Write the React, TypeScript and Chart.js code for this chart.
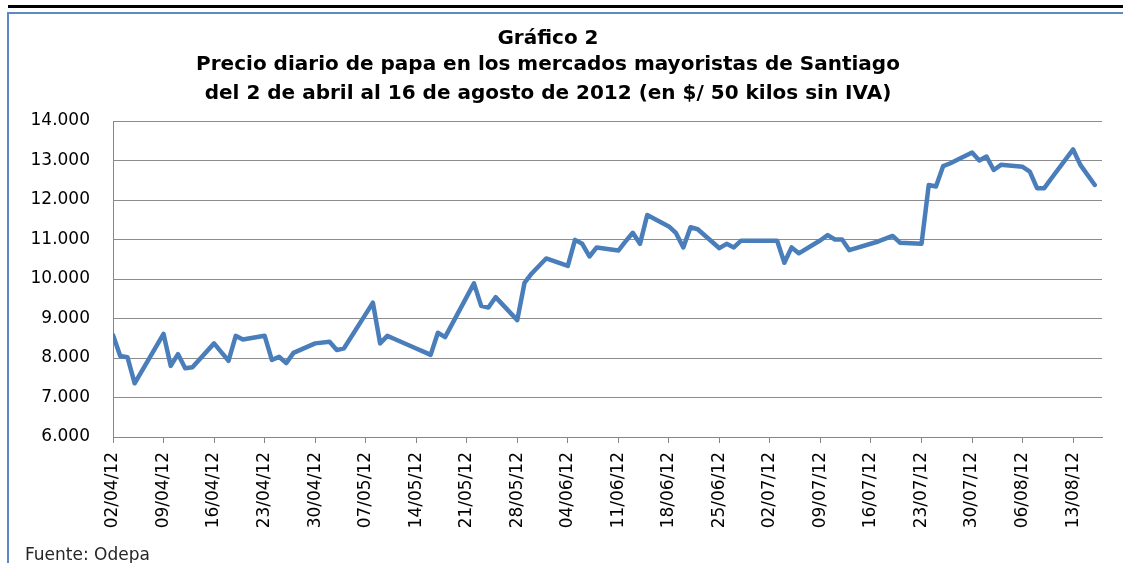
import React, { useEffect, useRef } from "react";
import { Chart, registerables } from "chart.js";

Chart.register(...registerables);

const titleLines = [
  "Gráfico 2",
  "Precio diario de papa en los mercados mayoristas de Santiago",
  "del 2 de abril al 16 de agosto de 2012 (en $/ 50 kilos sin IVA)",
];
const sourceText = "Fuente: Odepa";

const dates = [
  "02/04", "03/04", "04/04", "05/04", "09/04", "10/04", "11/04", "12/04", "13/04",
  "16/04", "17/04", "18/04", "19/04", "20/04", "23/04", "24/04", "25/04", "26/04", "27/04",
  "30/04", "02/05", "03/05", "04/05", "07/05", "08/05", "09/05", "10/05", "11/05",
  "14/05", "15/05", "16/05", "17/05", "18/05", "22/05", "23/05", "24/05", "25/05",
  "28/05", "29/05", "30/05", "31/05", "01/06", "04/06", "05/06", "06/06", "07/06", "08/06",
  "11/06", "12/06", "13/06", "14/06", "15/06", "18/06", "19/06", "20/06", "21/06", "22/06",
  "25/06", "26/06", "27/06", "28/06", "29/06", "02/07", "03/07", "04/07", "05/07", "06/07",
  "09/07", "10/07", "11/07", "12/07", "13/07", "17/07", "18/07", "19/07", "20/07",
  "23/07", "24/07", "25/07", "26/07", "27/07", "30/07", "31/07", "01/08", "02/08", "03/08",
  "06/08", "07/08", "08/08", "09/08", "10/08", "13/08", "14/08", "16/08",
];

const prices = [
  8580, 8050, 8020, 7360, 8610, 7800, 8100, 7740, 7765,
  8370, 8150, 7930, 8560, 8470, 8565, 7950, 8030, 7870, 8130,
  8370, 8410, 8200, 8245, 9110, 9400, 8370, 8560, 8480,
  8240, 8160, 8080, 8640, 8530, 9890, 9320, 9280, 9540,
  8960, 9900, 10140, 10330, 10520, 10330, 10990, 10890, 10570, 10800,
  10720, 10950, 11170, 10890, 11620, 11330, 11160, 10800, 11310, 11260,
  10780, 10890, 10800, 10970, 10970, 10970, 10970, 10410, 10800, 10650,
  10980, 11110, 11000, 11000, 10730, 10950, 11020, 11090, 10920,
  10890, 12380, 12340, 12860, 12930, 13200, 13000, 13100, 12760, 12890,
  12840, 12720, 12300, 12300, 12550, 13280, 12890, 12380,
];

const tickLabels = [
  "02/04/12", "09/04/12", "16/04/12", "23/04/12", "30/04/12", "07/05/12", "14/05/12",
  "21/05/12", "28/05/12", "04/06/12", "11/06/12", "18/06/12", "25/06/12", "02/07/12",
  "09/07/12", "16/07/12", "23/07/12", "30/07/12", "06/08/12", "13/08/12",
];

const yMin = 6000;
const yMax = 14000;
const yStep = 1000;
const xMaxDays = 137;

function dayIndex(ddmm: string): number {
  const [d, m] = ddmm.split("/").map(Number);
  return Math.round((Date.UTC(2012, m - 1, d) - Date.UTC(2012, 3, 2)) / 86400000);
}

function tickDay(label: string): number {
  return dayIndex(label.slice(0, 5));
}

function fmt(v: number): string {
  const s = String(Math.round(v));
  return s.replace(/\B(?=(\d{3})+(?!\d))/g, ".");
}

export default function App() {
  const ref = useRef<HTMLCanvasElement | null>(null);

  useEffect(() => {
    document.body.style.margin = "0";
    if (!ref.current) return;
    const points = dates.map((d, i) => ({ x: dayIndex(d), y: prices[i] }));
    const tickFont = { family: "'DejaVu Sans'", size: 17 };
    const chart = new Chart(ref.current, {
      type: "line",
      data: {
        datasets: [
          {
            data: points,
            borderColor: "#4A7EBB",
            borderWidth: 4.5,
            pointRadius: 0,
            tension: 0,
            borderJoinStyle: "round",
            borderCapStyle: "round",
          },
        ],
      },
      options: {
        animation: false,
        responsive: false,
        layout: { padding: { top: 121, right: 21, bottom: 0, left: 0 } },
        plugins: { legend: { display: false }, title: { display: false }, tooltip: { enabled: false } },
        scales: {
          x: {
            type: "linear",
            min: 0,
            max: xMaxDays,
            afterBuildTicks: (scale: any) => {
              scale.ticks = tickLabels.map((l) => ({ value: tickDay(l) }));
            },
            afterFit: (scale: any) => {
              scale.height = 126;
            },
            ticks: {
              autoSkip: false,
              maxRotation: 90,
              minRotation: 90,
              padding: 9,
              color: "#000",
              font: tickFont,
              callback: (_v: any, i: number) => tickLabels[i],
            },
            grid: {
              drawOnChartArea: false,
              drawTicks: true,
              tickLength: 6,
              color: "#868686",
            },
            border: { display: true, color: "#868686", width: 1 },
          },
          y: {
            min: yMin,
            max: yMax,
            afterFit: (scale: any) => {
              scale.width = 113;
            },
            ticks: {
              stepSize: yStep,
              padding: 23,
              color: "#000",
              font: tickFont,
              callback: (v: any) => fmt(Number(v)),
            },
            grid: { color: "#8c8c8c", lineWidth: 1, drawTicks: false },
            border: { display: true, color: "#868686", width: 1 },
          },
        },
      },
    } as any);
    return () => chart.destroy();
  }, []);

  const titleTops = [25, 51, 80];

  return (
    <div
      style={{
        position: "absolute",
        left: 0,
        top: 0,
        width: 1123,
        height: 563,
        overflow: "hidden",
        background: "#fff",
      }}
    >
      <div style={{ position: "absolute", left: 8, top: 5, width: 1115, height: 3, background: "#000" }} />
      <div
        style={{
          position: "absolute",
          left: 7,
          top: 12,
          width: 1300,
          height: 700,
          borderLeft: "2px solid #5a8ac6",
          borderTop: "2px solid #5a8ac6",
        }}
      />
      <canvas
        ref={ref}
        width={1123}
        height={563}
        style={{ position: "absolute", left: 0, top: 0, width: 1123, height: 563 }}
      />
      {titleLines.map((t, i) => (
        <div
          key={i}
          style={{
            position: "absolute",
            left: 0,
            top: titleTops[i],
            width: 1096,
            textAlign: "center",
            fontFamily: "'DejaVu Sans'",
            fontWeight: "bold",
            fontSize: 20,
            lineHeight: "24px",
            color: "#000",
            whiteSpace: "nowrap",
          }}
        >
          {t}
        </div>
      ))}
      <div
        style={{
          position: "absolute",
          left: 25,
          top: 544,
          fontFamily: "'DejaVu Sans'",
          fontSize: 17,
          lineHeight: "20px",
          color: "#262626",
          whiteSpace: "nowrap",
        }}
      >
        {sourceText}
      </div>
    </div>
  );
}
